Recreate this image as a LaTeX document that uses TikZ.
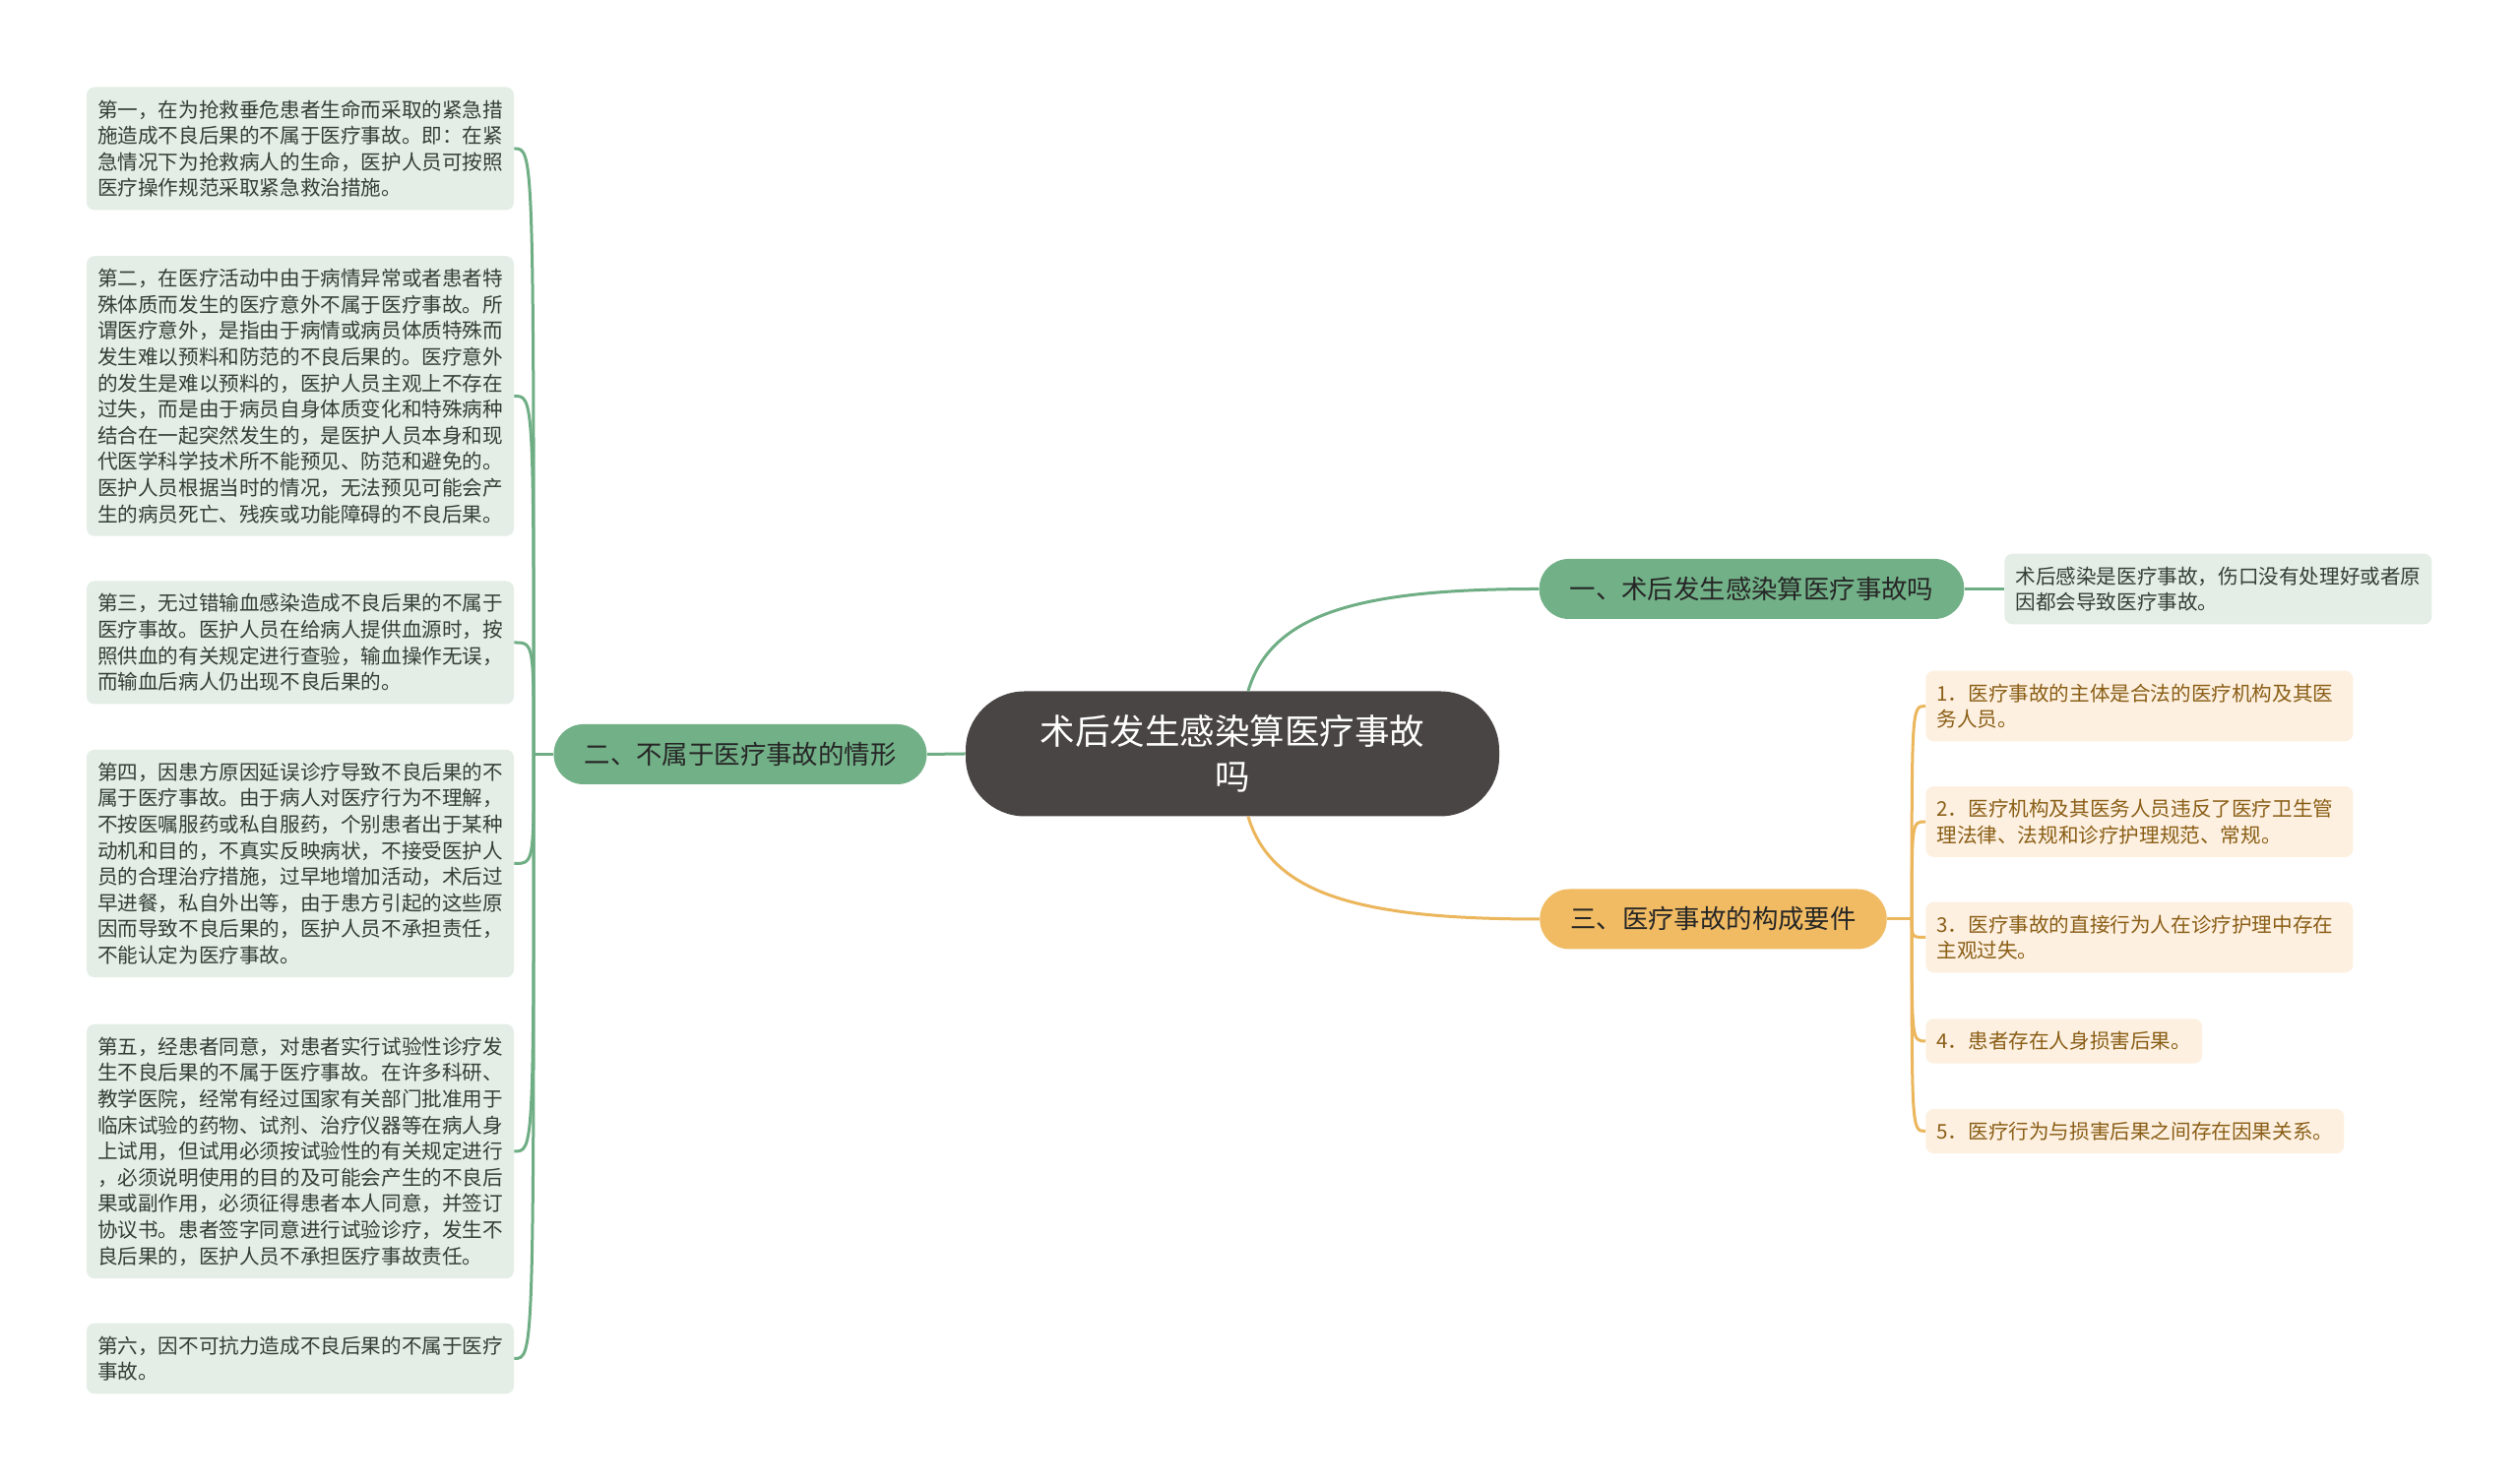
\documentclass[tikz,border=0pt]{standalone}
\usepackage{fontspec}
\setmainfont{Noto Sans CJK SC}
\usetikzlibrary{calc}

\definecolor{rootfill}{HTML}{4A4545}
\definecolor{gline}{HTML}{6FAE85}
\definecolor{gfill}{HTML}{72B087}
\definecolor{gleafbg}{HTML}{E4EEE6}
\definecolor{oline}{HTML}{EBB65C}
\definecolor{ofill}{HTML}{F0BB63}
\definecolor{oleafbg}{HTML}{FDF0E0}
\definecolor{leaftext}{HTML}{333F36}
\definecolor{otext}{HTML}{8A5E16}

\begin{document}
\begin{tikzpicture}[x=1pt,y=1pt,
  every node/.style={font=\fontsize{10.3pt}{13.3pt}\selectfont},
  root/.style={fill=rootfill, text=white, rounded corners=30pt, minimum width=271pt,
    minimum height=63.5pt, align=center, font=\fontsize{17.75pt}{23pt}\selectfont},
  branch/.style={rounded corners=15pt, minimum height=30.5pt, inner xsep=15.5pt,
    text=black!85, font=\fontsize{13.2pt}{16pt}\selectfont},
  gleafbox/.style={fill=gleafbg, text=leaftext, rounded corners=4pt, align=left,
    text width=206pt, inner xsep=5.5pt, inner ysep=6.5pt},
  obox/.style={fill=oleafbg, text=otext, rounded corners=4pt, align=left,
    inner xsep=5.5pt, inner ysep=6.5pt},
  oleafbox/.style={obox, text width=206pt},
  gwire/.style={draw=gline, line width=1.5pt},
  owire/.style={draw=oline, line width=1.5pt}]

  \fill[white] (0,0) rectangle (1280,753.5);
  \useasboundingbox (0,0) rectangle (1280,753.5);

  \node[root] (c) at (626,370.5) {术后发生感染算医疗事故\\吗};

  \node[branch, fill=gfill] (b1) at (889.75,454.25) {一、术后发生感染算医疗事故吗};
  \node[branch, fill=gfill] (b2) at (376,370.25) {二、不属于医疗事故的情形};
  \node[branch, fill=ofill] (b3) at (870.25,286.5) {三、医疗事故的构成要件};

  \node[gleafbox, anchor=west] (r1) at (1018,454.25) {术后感染是医疗事故，伤口没有处理好或者原\\因都会导致医疗事故。};

  \node[gleafbox] (l1) at (152.5,678) {第一，在为抢救垂危患者生命而采取的紧急措\\施造成不良后果的不属于医疗事故。即：在紧\\急情况下为抢救病人的生命，医护人员可按照\\医疗操作规范采取紧急救治措施。};
  \node[gleafbox] (l2) at (152.5,552.25) {第二，在医疗活动中由于病情异常或者患者特\\殊体质而发生的医疗意外不属于医疗事故。所\\谓医疗意外，是指由于病情或病员体质特殊而\\发生难以预料和防范的不良后果的。医疗意外\\的发生是难以预料的，医护人员主观上不存在\\过失，而是由于病员自身体质变化和特殊病种\\结合在一起突然发生的，是医护人员本身和现\\代医学科学技术所不能预见、防范和避免的。\\医护人员根据当时的情况，无法预见可能会产\\生的病员死亡、残疾或功能障碍的不良后果。};
  \node[gleafbox] (l3) at (152.5,427) {第三，无过错输血感染造成不良后果的不属于\\医疗事故。医护人员在给病人提供血源时，按\\照供血的有关规定进行查验，输血操作无误，\\而输血后病人仍出现不良后果的。};
  \node[gleafbox] (l4) at (152.5,314.75) {第四，因患方原因延误诊疗导致不良后果的不\\属于医疗事故。由于病人对医疗行为不理解，\\不按医嘱服药或私自服药，个别患者出于某种\\动机和目的，不真实反映病状，不接受医护人\\员的合理治疗措施，过早地增加活动，术后过\\早进餐，私自外出等，由于患方引起的这些原\\因而导致不良后果的，医护人员不承担责任，\\不能认定为医疗事故。};
  \node[gleafbox] (l5) at (152.5,168.5) {第五，经患者同意，对患者实行试验性诊疗发\\生不良后果的不属于医疗事故。在许多科研、\\教学医院，经常有经过国家有关部门批准用于\\临床试验的药物、试剂、治疗仪器等在病人身\\上试用，但试用必须按试验性的有关规定进行\\，必须说明使用的目的及可能会产生的不良后\\果或副作用，必须征得患者本人同意，并签订\\协议书。患者签字同意进行试验诊疗，发生不\\良后果的，医护人员不承担医疗事故责任。};
  \node[gleafbox] (l6) at (152.5,63.25) {第六，因不可抗力造成不良后果的不属于医疗\\事故。};

  \node[oleafbox, anchor=west] (o1) at (978,394.75) {1．医疗事故的主体是合法的医疗机构及其医\\务人员。};
  \node[oleafbox, anchor=west] (o2) at (978,336) {2．医疗机构及其医务人员违反了医疗卫生管\\理法律、法规和诊疗护理规范、常规。};
  \node[oleafbox, anchor=west] (o3) at (978,277.25) {3．医疗事故的直接行为人在诊疗护理中存在\\主观过失。};
  \node[obox, anchor=west] (o4) at (978,224.5) {4．患者存在人身损害后果。};
  \node[obox, anchor=west] (o5) at (978,178.75) {5．医疗行为与损害后果之间存在因果关系。};

  % connectors
  \draw[gwire] (c.west) -- (b2.east);
  \draw[gwire] ([xshift=8pt]c.north) .. controls +(12,40) and +(-90,0) .. (b1.west);
  \draw[owire] ([xshift=8pt]c.south) .. controls +(12,-40) and +(-90,0) .. (b3.west);
  \draw[gwire] (b1.east) -- (r1.west);

  \coordinate (lj) at ($(b2.west)+(-10,0)$);
  \draw[gwire] (b2.west) -- (lj);
  \foreach \i in {1,...,6}
    \draw[gwire] (lj) .. controls (lj |- l\i.east) .. (l\i.east);

  \coordinate (rj) at ($(b3.east)+(12.5,0)$);
  \draw[owire] (b3.east) -- (rj);
  \foreach \i in {1,...,5}
    \draw[owire] (rj) .. controls (rj |- o\i.west) .. (o\i.west);
\end{tikzpicture}
\end{document}
